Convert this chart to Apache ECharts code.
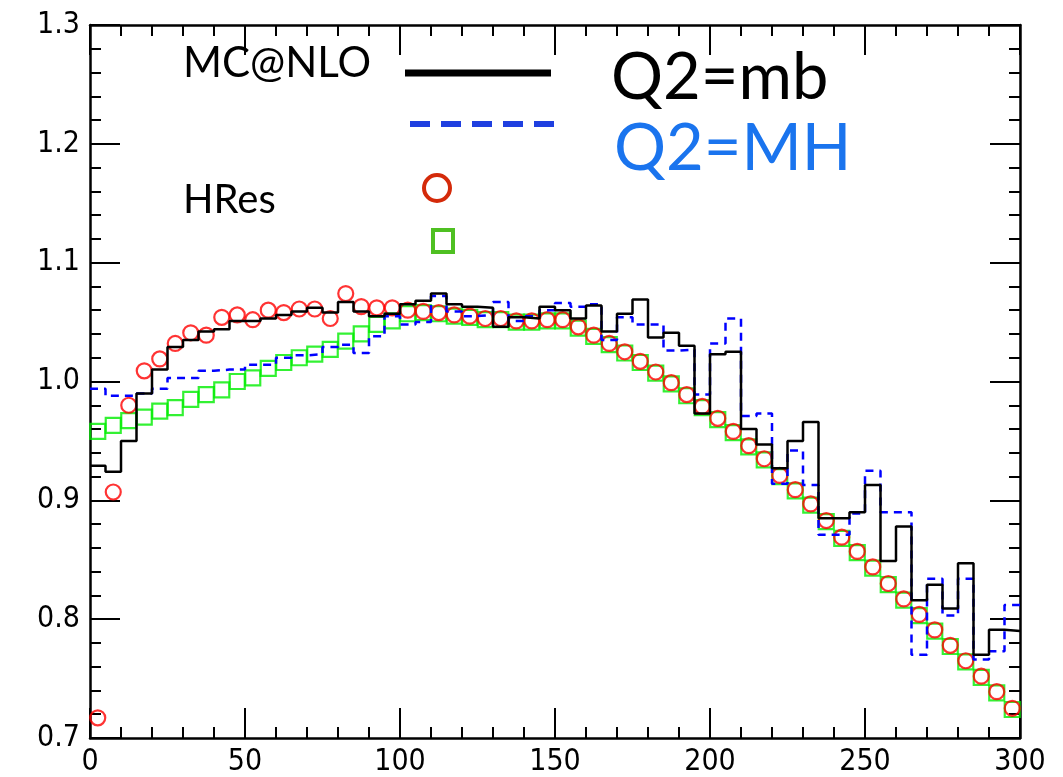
<!DOCTYPE html>
<html><head><meta charset="utf-8">
<script src="https://cdn.jsdelivr.net/npm/echarts@6/dist/echarts.min.js"></script>
<style>html,body{margin:0;padding:0;background:#fff}#c{width:1063px;height:777px}</style>
</head><body><div id="c"></div>
<script>
// bin width of the histograms, 60 bins from 0 to 300
const binWidth = 5;
const xMin = 0, xMax = 300, xStep = 50;
const yMin = 0.7, yMax = 1.3, yStep = 0.1;

// MC@NLO, Q2 = mb (black solid histogram)
const mcnloMb = [0.929,0.924,0.950,0.990,1.010,1.029,1.035,1.042,1.044,1.051,
  1.051,1.053,1.056,1.059,1.062,1.058,1.067,1.059,1.055,1.057,
  1.065,1.068,1.074,1.065,1.063,1.062,1.046,1.054,1.053,1.063,
  1.060,1.053,1.064,1.042,1.057,1.069,1.037,1.041,1.030,0.973,
  1.023,1.025,0.960,0.947,0.927,0.950,0.966,0.885,0.885,0.890,
  0.913,0.849,0.878,0.816,0.829,0.809,0.847,0.770,0.791,0.790];

// MC@NLO, Q2 = MH (blue dashed histogram)
const mcnloMH = [0.994,0.988,0.988,0.990,0.994,1.003,1.003,1.009,1.010,1.010,
  1.014,1.014,1.020,1.022,1.023,1.029,1.031,1.024,1.038,1.055,
  1.048,1.050,1.072,1.059,1.055,1.056,1.067,1.051,1.055,1.060,
  1.066,1.063,1.065,1.035,1.054,1.048,1.048,1.026,1.027,0.989,
  1.032,1.053,0.971,0.973,0.914,0.942,0.913,0.871,0.871,0.889,
  0.925,0.890,0.890,0.770,0.834,0.803,0.834,0.766,0.773,0.812];

// HRes, Q2 = mb (red circles)
const hresMb = [0.717,0.907,0.980,1.009,1.019,1.032,1.041,1.039,1.054,1.056,
  1.052,1.060,1.058,1.061,1.061,1.053,1.074,1.063,1.062,1.062,
  1.060,1.059,1.058,1.056,1.055,1.053,1.053,1.051,1.051,1.052,
  1.052,1.046,1.039,1.032,1.025,1.017,1.008,0.999,0.989,0.979,
  0.969,0.958,0.946,0.935,0.921,0.909,0.897,0.883,0.869,0.857,
  0.844,0.830,0.817,0.804,0.791,0.778,0.765,0.752,0.739,0.725];

// HRes, Q2 = MH (green squares)
const hresMH = [0.958,0.963,0.967,0.970,0.975,0.978,0.985,0.989,0.993,1.000,
  1.003,1.011,1.016,1.020,1.023,1.027,1.034,1.040,1.048,1.051,
  1.057,1.058,1.057,1.055,1.054,1.052,1.052,1.050,1.050,1.051,
  1.051,1.045,1.038,1.031,1.024,1.016,1.007,0.998,0.988,0.978,
  0.968,0.957,0.945,0.934,0.920,0.908,0.896,0.882,0.868,0.856,
  0.843,0.829,0.816,0.803,0.790,0.777,0.764,0.751,0.738,0.724];

function histData(vals){
  const d = vals.map((v,i)=>[i*binWidth, v]);
  d.push([vals.length*binWidth, vals[vals.length-1]]);
  return d;
}
function pointData(vals){
  return vals.map((v,i)=>[(i+0.5)*binWidth, v]);
}

const tickFont = "'DejaVu Sans Condensed','Liberation Sans Narrow','DejaVu Sans',sans-serif";
const legendFont = "Lato,'Open Sans',sans-serif";

function common(showLabel, margin){
  return {
    axisLine:{show:true,onZero:false,lineStyle:{color:'#000',width:2.5}},
    axisTick:{show:true,inside:true,length:30,lineStyle:{color:'#000',width:2}},
    minorTick:{show:true,splitNumber:5,length:11,lineStyle:{color:'#000',width:2}},
    splitLine:{show:false},
    minorSplitLine:{show:false},
    axisLabel:{show:showLabel,color:'#000',fontSize:30,fontFamily:tickFont,margin:margin}
  };
}

const chart = echarts.init(document.getElementById('c'));
const yLeft = Object.assign({type:'value',min:yMin,max:yMax,interval:yStep,position:'left'}, common(true,10));
yLeft.axisLabel.formatter = v => v.toFixed(1);

chart.setOption({
  animation:false,
  grid:{left:90,right:43,top:25,bottom:39},
  xAxis:[
    Object.assign({type:'value',min:xMin,max:xMax,interval:xStep,position:'bottom'}, common(true,9)),
    Object.assign({type:'value',min:xMin,max:xMax,interval:xStep,position:'top'}, common(false,8))
  ],
  yAxis:[
    yLeft,
    Object.assign({type:'value',min:yMin,max:yMax,interval:yStep,position:'right'}, common(false,8))
  ],
  series:[
    {name:'HRes MH',type:'scatter',data:pointData(hresMH),symbol:'rect',symbolSize:15,
      itemStyle:{color:'rgba(0,0,0,0)',borderColor:'#00ee00',borderWidth:2.2}},
    {name:'MC@NLO MH',type:'line',step:'end',data:histData(mcnloMH),showSymbol:false,
      lineStyle:{color:'#0000ff',width:2.5,type:[8,6]}},
    {name:'MC@NLO mb',type:'line',step:'end',data:histData(mcnloMb),showSymbol:false,
      lineStyle:{color:'#000',width:2.5}},
    {name:'HRes mb',type:'scatter',data:pointData(hresMb),symbol:'circle',symbolSize:15,
      itemStyle:{color:'rgba(0,0,0,0)',borderColor:'#ff0000',borderWidth:2.2}}
  ],
  graphic:[
    {type:'text',x:183,y:63,style:{text:'MC@NLO',font:'42px '+legendFont,fill:'#000',verticalAlign:'middle'}},
    {type:'line',shape:{x1:405,y1:73,x2:551,y2:73},style:{stroke:'#000',lineWidth:7}},
    {type:'line',shape:{x1:410,y1:124,x2:556,y2:124},style:{stroke:'#1f3fe0',lineWidth:6,lineDash:[20,11]}},
    {type:'text',x:611,y:78,style:{text:'Q2=mb',font:'65px '+legendFont,fill:'#000',verticalAlign:'middle'}},
    {type:'text',x:614,y:149,style:{text:'Q2=MH',font:'65px '+legendFont,fill:'#1a74ee',verticalAlign:'middle'}},
    {type:'text',x:183,y:200,style:{text:'HRes',font:'40px '+legendFont,fill:'#000',verticalAlign:'middle'}},
    {type:'circle',shape:{cx:437,cy:188,r:13},style:{fill:'none',stroke:'#d42a0a',lineWidth:4}},
    {type:'rect',shape:{x:433,y:230,width:20,height:22},style:{fill:'none',stroke:'#4fc022',lineWidth:4}}
  ]
});
</script></body></html>
